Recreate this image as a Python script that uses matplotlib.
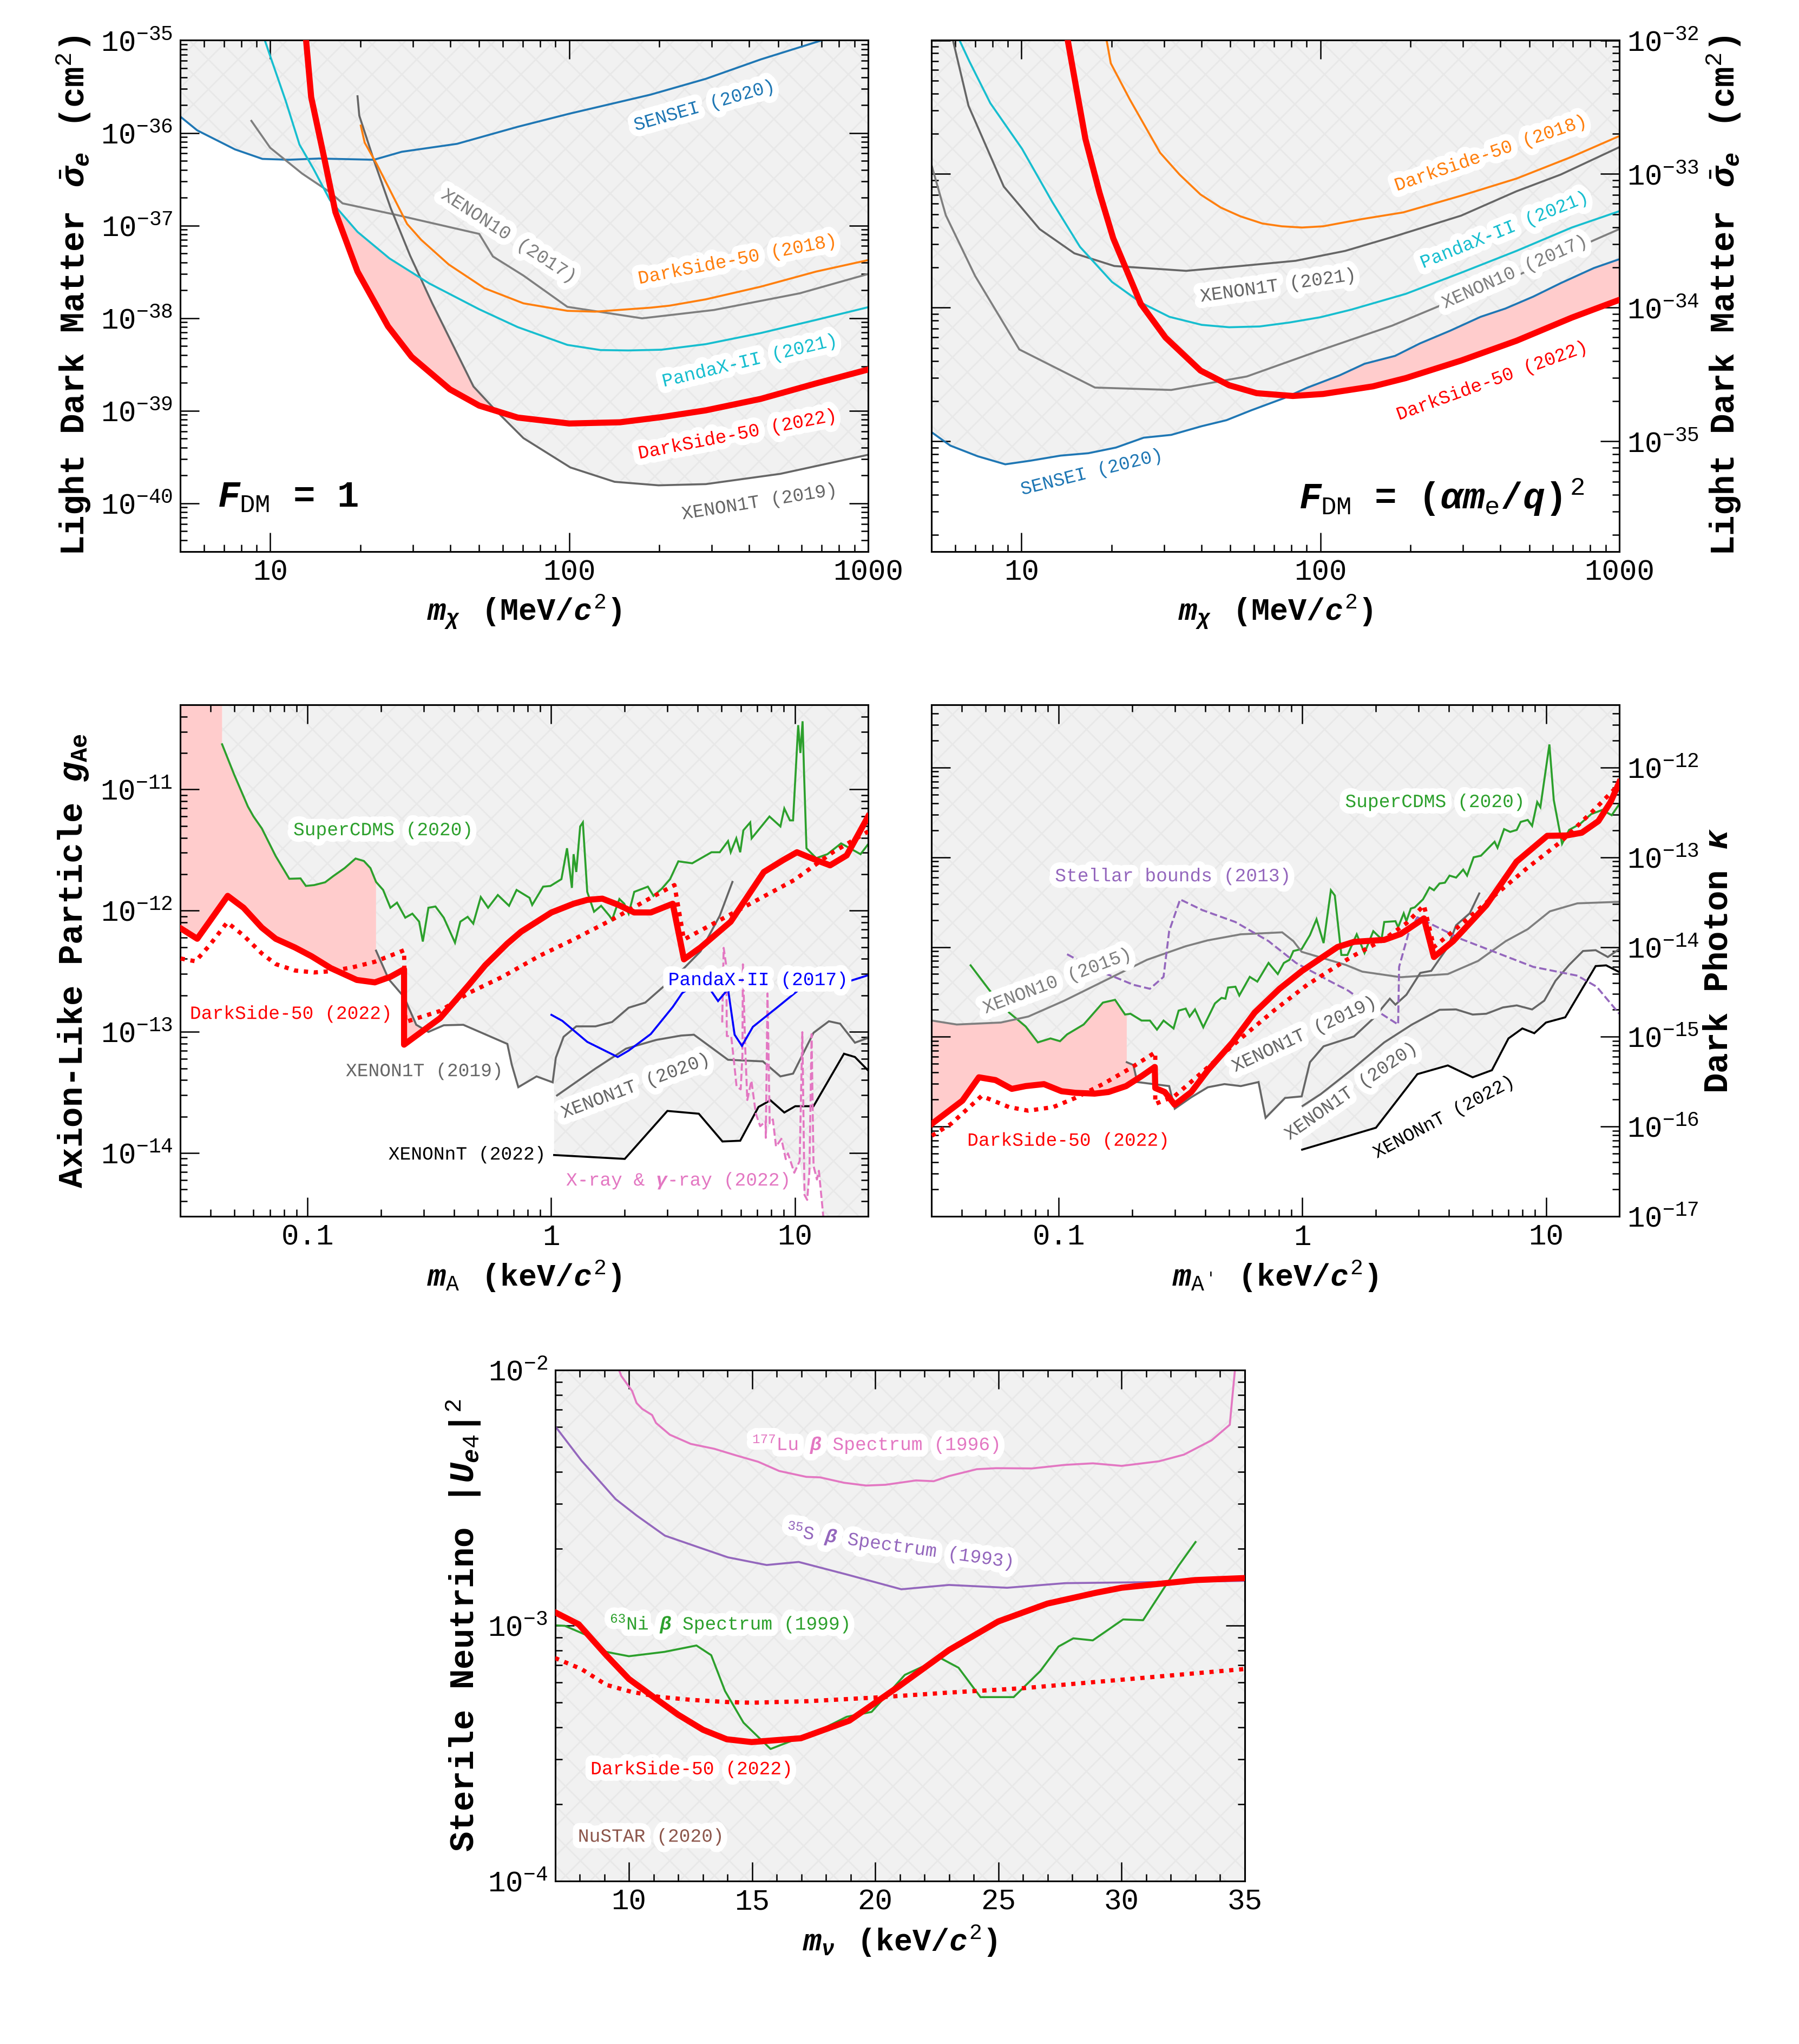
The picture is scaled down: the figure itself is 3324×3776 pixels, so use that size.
# Exclusion limits from DarkSide-50 (2022) and others, five panels.
import numpy as np
import matplotlib
matplotlib.use('Agg')
import matplotlib.pyplot as plt
import matplotlib.patheffects as pe
from matplotlib.ticker import LogLocator, MultipleLocator, NullFormatter

plt.rcParams['font.family'] = ['Liberation Mono', 'DejaVu Sans']
plt.rcParams['mathtext.fontset'] = 'custom'
plt.rcParams['mathtext.rm'] = 'Liberation Mono'
plt.rcParams['mathtext.it'] = 'Liberation Mono:italic:bold'
plt.rcParams['mathtext.bf'] = 'Liberation Mono:bold'
plt.rcParams['mathtext.fallback'] = 'stixsans'
plt.rcParams['hatch.linewidth'] = 1.2
plt.rcParams['axes.linewidth'] = 1.35

RED = '#ff0000'
GREY = '#7f7f7f'
DARK = '#666666'
BLUE = 'tab:blue'
ORANGE = '#ff7f0e'
CYAN = '#17becf'
GREEN = '#2ca02c'
PURPLE = '#9467bd'
PINK = '#e377c2'
BROWN = '#8c564b'

# ---- panel 1, F_DM = 1
p1_sensei_lx = [.697,.756,.882,.974,1.061,1.163,1.347,1.44,1.625,1.828,2,2.272,2.457,2.641,2.845]
p1_sensei_ly = [-35.818,-35.973,-36.178,-36.281,-36.29,-36.277,-36.29,-36.204,-36.118,-35.934,-35.793,-35.587,-35.416,-35.206,-35]
p1_panda_lx = [.982,1.006,1.052,1.098,1.144,1.2,1.292,1.399,1.532,1.699,1.828,1.994,2.105,2.198,2.309,2.457,2.641,2.826,3]
p1_panda_ly = [-35,-35.227,-35.656,-36.127,-36.384,-36.727,-37.069,-37.356,-37.626,-37.905,-38.098,-38.29,-38.346,-38.35,-38.342,-38.282,-38.162,-38.02,-37.883]
p1_ds22_lx = [1.12,1.137,1.181,1.218,1.292,1.394,1.473,1.601,1.699,1.828,2,2.17,2.309,2.457,2.641,2.826,3]
p1_ds22_ly = [-35,-35.613,-36.277,-36.855,-37.498,-38.089,-38.419,-38.77,-38.946,-39.075,-39.139,-39.126,-39.07,-38.997,-38.873,-38.706,-38.556]
p1_x10_lx = [.937,1,1.107,1.2,1.242,1.421,1.699,1.745,1.847,1.994,2.244,2.484,2.771,3]
p1_x10_ly = [-35.87,-36.161,-36.44,-36.641,-36.761,-36.885,-37.091,-37.335,-37.541,-37.879,-38.003,-37.913,-37.733,-37.524]
p1_x1t_lx = [1.292,1.298,1.347,1.403,1.468,1.542,1.68,1.754,1.847,2.004,2.152,2.299,2.457,2.706,3]
p1_x1t_ly = [-35.604,-35.814,-36.298,-36.812,-37.326,-37.841,-38.74,-38.997,-39.297,-39.614,-39.769,-39.807,-39.794,-39.683,-39.477]
p1_ds18_lx = [1.303,1.316,1.357,1.458,1.505,1.597,1.717,1.847,1.994,2.087,2.272,2.336,2.457,2.641,2.826,3]
p1_ds18_ly = [-35.921,-36.105,-36.341,-36.984,-37.155,-37.421,-37.678,-37.841,-37.922,-37.931,-37.888,-37.866,-37.798,-37.661,-37.498,-37.374]
p1_env_lx = [.697,.756,.882,.974,1.05,1.107,1.181,1.2,1.292,1.399,1.495,1.542,1.68,1.754,1.847,2.004,2.152,2.299,2.457,2.706,3]
p1_env_ly = [-35.818,-35.973,-36.178,-36.281,-36.3,-36.44,-36.61,-36.727,-37.069,-37.356,-37.56,-37.841,-38.74,-38.997,-39.297,-39.614,-39.769,-39.807,-39.794,-39.683,-39.477]
p1_pink_lx = [1.21,1.292,1.399,1.495,1.542,1.68,1.745,1.699,1.601,1.473,1.394,1.292,1.218]
p1_pink_ly = [-36.78,-37.069,-37.356,-37.56,-37.841,-38.74,-38.98,-38.946,-38.77,-38.419,-38.089,-37.498,-36.855]

# ---- panel 2, F_DM = (alpha m_e / q)^2
p2_sensei_lx = [.697,.762,.854,.946,1.03,1.131,1.224,1.316,1.409,1.501,1.603,1.686,1.769,1.88,1.954,2.065,2.148,2.25,2.333,2.434,2.536,2.619,2.712,2.804,2.915,3]
p2_sensei_ly = [-34.927,-35.031,-35.111,-35.171,-35.144,-35.106,-35.088,-35.046,-34.972,-34.951,-34.886,-34.841,-34.767,-34.675,-34.6,-34.505,-34.419,-34.36,-34.267,-34.172,-34.068,-34.006,-33.917,-33.816,-33.703,-33.637]
p2_x10_lx = [.697,.747,.845,.993,1.246,1.501,1.754,2,2.24,2.416,2.656,2.915,3]
p2_x10_ly = [-32.915,-33.308,-33.762,-34.312,-34.597,-34.615,-34.514,-34.318,-34.134,-33.97,-33.762,-33.495,-33.412]
p2_x1t_lx = [.771,.823,.941,1.061,1.177,1.311,1.551,1.732,1.917,2.083,2.25,2.471,2.656,2.804,3]
p2_x1t_ly = [-32,-32.49,-33.094,-33.412,-33.593,-33.688,-33.724,-33.688,-33.649,-33.575,-33.465,-33.311,-33.129,-33.004,-32.799]
p2_panda_lx = [.793,.826,.896,1.002,1.104,1.196,1.303,1.399,1.495,1.603,1.695,1.797,1.898,2,2.102,2.286,2.471,2.656,2.841,3]
p2_panda_ly = [-32,-32.158,-32.47,-32.811,-33.212,-33.545,-33.807,-33.961,-34.068,-34.128,-34.146,-34.14,-34.11,-34.071,-34.015,-33.896,-33.738,-33.575,-33.4,-33.278]
p2_ds18_lx = [1.285,1.299,1.362,1.464,1.529,1.599,1.667,1.732,1.806,1.871,1.939,2.009,2.139,2.277,2.471,2.656,2.841,3]
p2_ds18_ly = [-32,-32.172,-32.44,-32.841,-33.004,-33.153,-33.251,-33.316,-33.37,-33.391,-33.4,-33.391,-33.337,-33.287,-33.162,-33.034,-32.871,-32.716]
p2_ds22_lx = [1.155,1.177,1.214,1.261,1.307,1.399,1.482,1.599,1.695,1.787,1.908,2.009,2.176,2.286,2.471,2.656,2.841,3]
p2_ds22_ly = [-32,-32.276,-32.737,-33.138,-33.48,-33.97,-34.223,-34.47,-34.58,-34.639,-34.66,-34.645,-34.588,-34.526,-34.395,-34.247,-34.074,-33.941]
p2_pink_lx = [1.908,1.954,2.065,2.148,2.25,2.333,2.434,2.536,2.619,2.712,2.804,2.915,3,3,2.841,2.656,2.471,2.286,2.176,2.009]
p2_pink_ly = [-34.66,-34.6,-34.505,-34.419,-34.36,-34.267,-34.172,-34.068,-34.006,-33.917,-33.816,-33.703,-33.637,-33.941,-34.074,-34.247,-34.395,-34.526,-34.588,-34.645]

# ---- panel 3, axion-like particle
p3_ds22_lx = [-1.521,-1.453,-1.403,-1.328,-1.263,-1.188,-1.131,-1.052,-.984,-.905,-.798,-.724,-.66,-.604,-.604,-.456,-.339,-.271,-.18,-.123,.001,.092,.148,.21,.273,.341,.409,.499,.545,.613,.737,.873,.952,1.009,1.088,1.145,1.213,1.301]
p3_ds22_ly = [-12.146,-12.232,-12.091,-11.878,-11.976,-12.14,-12.232,-12.304,-12.376,-12.474,-12.572,-12.592,-12.546,-12.484,-13.106,-12.887,-12.615,-12.451,-12.271,-12.173,-12.015,-11.943,-11.911,-11.901,-11.95,-12.015,-12.015,-11.943,-12.402,-12.304,-12.091,-11.681,-11.583,-11.518,-11.583,-11.626,-11.544,-11.223]
p3_dot_lx = [-1.521,-1.46,-1.403,-1.33,-1.263,-1.188,-1.131,-1.052,-.973,-.905,-.814,-.724,-.604,-.599,-.456,-.339,-.203,-.044,.092,.25,.409,.506,.545,.772,.998,1.156,1.301]
p3_dot_ly = [-12.395,-12.418,-12.287,-12.097,-12.205,-12.353,-12.441,-12.494,-12.51,-12.5,-12.467,-12.422,-12.327,-12.919,-12.828,-12.68,-12.549,-12.369,-12.238,-12.074,-11.894,-11.789,-12.238,-11.992,-11.747,-11.518,-11.347]
p3_cdms_lx = [-1.351,-1.301,-1.245,-1.222,-1.188,-1.131,-1.075,-1.029,-1.007,-.973,-.928,-.894,-.848,-.803,-.769,-.742,-.719,-.69,-.66,-.633,-.599,-.57,-.542,-.527,-.504,-.475,-.441,-.395,-.373,-.343,-.32,-.289,-.259,-.219,-.173,-.142,-.089,-.078,-.033,-.003,.042,.065,.085,.092,.103,.119,.13,.148,.176,.205,.239,.25,.28,.3,.318,.341,.397,.42,.454,.488,.522,.579,.658,.692,.726,.737,.76,.776,.789,.817,.823,.896,.941,.957,.98,.993,1.014,1.023,1.032,1.038,1.048,1.088,1.134,1.19,1.27,1.301]
p3_cdms_ly = [-10.627,-10.879,-11.141,-11.223,-11.321,-11.55,-11.737,-11.734,-11.796,-11.789,-11.766,-11.714,-11.649,-11.57,-11.59,-11.649,-11.763,-11.829,-11.976,-11.934,-12.058,-12.025,-12.091,-12.255,-11.976,-11.966,-12.058,-12.264,-12.091,-12.051,-12.107,-11.888,-11.976,-11.871,-11.96,-11.829,-11.894,-11.953,-11.802,-11.796,-11.74,-11.485,-11.812,-11.534,-11.681,-11.305,-11.272,-11.845,-12.009,-11.96,-12.042,-12.074,-11.904,-11.943,-12.025,-11.845,-11.802,-11.878,-11.819,-11.74,-11.593,-11.609,-11.518,-11.518,-11.426,-11.518,-11.403,-11.518,-11.337,-11.272,-11.403,-11.223,-11.305,-11.157,-11.255,-11.255,-10.469,-10.699,-10.437,-10.862,-11.485,-11.567,-11.534,-11.445,-11.534,-11.452]
p3_x1t19_lx = [-.719,-.667,-.604,-.554,-.504,-.441,-.361,-.18,-.162,-.135,-.06,.006,.019,.051,.103,.182,.25,.318,.386,.533,.613,.692,.744]
p3_x1t19_ly = [-12.33,-12.566,-12.713,-12.942,-13.001,-12.946,-12.942,-13.1,-13.27,-13.457,-13.368,-13.417,-13.214,-13.041,-12.955,-12.955,-12.919,-12.801,-12.759,-12.5,-12.336,-12.042,-11.763]
p3_x1t20_lx = [.024,.182,.307,.431,.533,.586,.726,.869,.941,.993,1.077,1.14,1.186,1.247,1.301]
p3_x1t20_ly = [-13.525,-13.303,-13.139,-13.067,-13.031,-13.024,-13.231,-13.244,-13.368,-13.345,-13.008,-12.913,-12.933,-13.09,-13.05]
p3_xnt_lx = [.012,.302,.477,.606,.703,.776,.851,.9,.957,1.002,1.077,1.202,1.247,1.301]
p3_xnt_ly = [-14.017,-14.049,-13.653,-13.676,-13.905,-13.899,-13.62,-13.565,-13.666,-13.614,-13.614,-13.181,-13.208,-13.319]
p3_panda_lx = [.001,.046,.148,.273,.318,.409,.499,.538,.624,.685,.726,.753,.783,.828,.93,1.02,1.224,1.301]
p3_panda_ly = [-12.86,-12.91,-13.083,-13.208,-13.155,-13.018,-12.795,-12.68,-12.566,-12.746,-12.648,-13.024,-13.116,-12.959,-12.795,-12.648,-12.582,-12.533]
p3_xray_lx = [.702,.708,.719,.721,.739,.752,.761,.778,.785,.787,.796,.805,.822,.84,.858,.88,.881,.888,.897,.91,.923,.945,.963,.972,.998,1.02,1.031,1.04,1.051,1.06,1.069,1.077,1.091,1.099,1.117]
p3_xray_ly = [-12.923,-12.307,-12.459,-13.035,-13.035,-13.275,-13.451,-13.475,-13.195,-12.443,-13.099,-13.563,-13.403,-13.675,-13.779,-13.739,-13.875,-12.683,-13.755,-13.723,-13.947,-13.883,-14.051,-14.003,-14.163,-14.067,-13.003,-14.347,-14.387,-14.155,-13.019,-14.107,-14.219,-14.147,-14.523]
p3_env_lx = [-1.351,-1.301,-1.245,-1.222,-1.188,-1.131,-1.075,-1.029,-1.007,-.973,-.928,-.894,-.848,-.803,-.769,-.742,-.719,-.719,-.667,-.604,-.554,-.504,-.441,-.361,-.18,-.162,-.135,-.06,.006,.012,.012,.302,.477,.606,.703,.776,.84,.858,.88,.881,.897,.91,.923,.945,.963,.972,.998,1.02,1.04,1.051,1.06,1.077,1.091,1.099,1.117,1.301]
p3_env_ly = [-10.627,-10.879,-11.141,-11.223,-11.321,-11.55,-11.737,-11.734,-11.796,-11.789,-11.766,-11.714,-11.649,-11.57,-11.59,-11.649,-11.763,-12.33,-12.566,-12.713,-12.942,-13.001,-12.946,-12.942,-13.1,-13.27,-13.457,-13.368,-13.417,-13.42,-14.017,-14.049,-13.653,-13.676,-13.905,-13.899,-13.66,-13.779,-13.739,-13.875,-13.755,-13.723,-13.947,-13.883,-14.051,-14.003,-14.163,-14.067,-14.347,-14.387,-14.155,-14.107,-14.219,-14.147,-14.523,-14.523]
p3_pink_lx = [-1.521,-1.351,-1.351,-1.301,-1.245,-1.222,-1.188,-1.131,-1.075,-1.029,-1.007,-.973,-.928,-.894,-.848,-.803,-.769,-.742,-.719,-.719,-.667,-.724,-.798,-.905,-.984,-1.052,-1.131,-1.188,-1.263,-1.328,-1.403,-1.453,-1.521]
p3_pink_ly = [-10.301,-10.301,-10.627,-10.879,-11.141,-11.223,-11.321,-11.55,-11.737,-11.734,-11.796,-11.789,-11.766,-11.714,-11.649,-11.57,-11.59,-11.649,-11.763,-12.33,-12.566,-12.592,-12.572,-12.474,-12.376,-12.304,-12.232,-12.14,-11.976,-11.878,-12.091,-12.232,-12.146]
p3_pink2_lx = [-.604,-.554,-.525,-.604]
p3_pink2_ly = [-12.713,-12.942,-12.98,-13.106]

# ---- panel 4, dark photon
p4_ds22_lx = [-1.521,-1.396,-1.328,-1.26,-1.193,-1.136,-1.061,-.989,-.932,-.853,-.796,-.724,-.66,-.606,-.604,-.565,-.524,-.456,-.388,-.287,-.196,-.094,-.001,.144,.212,.336,.404,.499,.54,.619,.755,.879,1.005,1.084,1.147,1.215,1.265,1.301]
p4_ds22_ly = [-15.969,-15.712,-15.451,-15.482,-15.58,-15.549,-15.527,-15.606,-15.624,-15.633,-15.615,-15.549,-15.438,-15.336,-15.571,-15.615,-15.757,-15.615,-15.372,-15.062,-14.73,-14.465,-14.265,-14,-13.942,-13.92,-13.854,-13.681,-14.111,-13.934,-13.535,-13.049,-12.761,-12.757,-12.726,-12.597,-12.385,-12.164]
p4_dot_lx = [-1.521,-1.442,-1.317,-1.204,-1.125,-1.023,-.932,-.819,-.706,-.604,-.604,-.524,-.411,-.253,-.117,.02,.2,.336,.427,.499,.54,.619,.789,.925,1.061,1.197,1.301]
p4_dot_ly = [-16.102,-15.969,-15.659,-15.783,-15.823,-15.783,-15.681,-15.527,-15.35,-15.173,-15.748,-15.659,-15.394,-15.018,-14.708,-14.42,-14.111,-13.912,-13.735,-13.535,-14,-13.823,-13.425,-13.115,-12.827,-12.473,-12.186]
p4_cdms_lx = [-1.362,-1.283,-1.204,-1.136,-1.086,-1.034,-.995,-.966,-.898,-.819,-.769,-.728,-.706,-.66,-.626,-.597,-.57,-.529,-.508,-.479,-.463,-.441,-.407,-.359,-.332,-.316,-.305,-.275,-.259,-.216,-.185,-.139,-.101,-.076,-.053,-.037,-.003,.031,.058,.087,.117,.133,.16,.185,.223,.255,.291,.325,.336,.382,.393,.416,.427,.445,.461,.495,.522,.54,.563,.585,.604,.631,.66,.676,.703,.733,.789,.801,.828,.853,.88,.896,.925,.943,.964,.977,1.014,1.032,1.066,1.095,1.14,1.186,1.231,1.27,1.301]
p4_cdms_ly = [-14.204,-14.487,-14.73,-14.885,-15.062,-15.018,-15.049,-14.973,-14.863,-14.619,-14.588,-14.752,-14.743,-14.819,-14.819,-14.92,-14.819,-14.907,-14.708,-14.686,-14.774,-14.695,-14.894,-14.628,-14.566,-14.575,-14.451,-14.442,-14.54,-14.332,-14.385,-14.177,-14.301,-14.177,-14.142,-14.044,-14.022,-13.867,-13.69,-13.956,-13.367,-13.425,-14.088,-14.088,-13.858,-14.066,-13.823,-13.912,-13.721,-13.712,-13.779,-13.624,-13.712,-13.571,-13.558,-13.469,-13.336,-13.367,-13.292,-13.283,-13.204,-13.226,-13.137,-13.204,-13,-12.982,-12.827,-12.894,-12.686,-12.717,-12.695,-12.606,-12.584,-12.65,-12.385,-12.442,-11.743,-12.363,-12.85,-12.695,-12.628,-12.518,-12.473,-12.531,-12.407]
p4_x10_lx = [-1.521,-1.419,-1.238,-1.125,-.977,-.796,-.638,-.479,-.388,-.253,-.083,-.037,-.003,.178,.246,.404,.597,.721,.835,.925,1.016,1.129,1.301]
p4_x10_ly = [-14.819,-14.863,-14.841,-14.774,-14.597,-14.354,-14.142,-13.991,-13.925,-13.858,-13.836,-13.934,-14.053,-14.199,-14.274,-14.336,-14.301,-14.155,-13.934,-13.801,-13.602,-13.513,-13.496]
p4_x1t19_lx = [-.721,-.694,-.678,-.547,-.524,-.456,-.388,-.32,-.253,-.18,-.151,-.071,-.003,.031,.087,.212,.291,.359,.382,.427,.484,.529,.597,.631,.687,.726]
p4_x1t19_ly = [-15.283,-15.314,-15.504,-15.549,-15.801,-15.673,-15.562,-15.527,-15.549,-15.504,-15.903,-15.681,-15.664,-15.283,-15.106,-14.996,-14.796,-14.575,-14.642,-14.531,-14.288,-14.265,-14,-13.757,-13.624,-13.403]
p4_x1t20_lx = [.001,.076,.2,.336,.45,.563,.631,.699,.755,.823,.88,.943,.993,1.039,1.095,1.152,1.204,1.254,1.301]
p4_x1t20_ly = [-15.77,-15.637,-15.372,-15.062,-14.863,-14.699,-14.695,-14.752,-14.743,-14.673,-14.65,-14.695,-14.597,-14.376,-14.199,-14.044,-14.035,-14.111,-14.022]
p4_xnt_lx = [-.001,.302,.472,.597,.699,.778,.846,.903,.952,1,1.079,1.204,1.247,1.301]
p4_xnt_ly = [-16.257,-16.013,-15.416,-15.319,-15.451,-15.372,-15.018,-14.907,-14.96,-14.841,-14.783,-14.212,-14.204,-14.279]
p4_stellar_lx = [-.966,-.841,-.773,-.694,-.626,-.57,-.547,-.502,-.411,-.275,-.139,-.026,.11,.189,.291,.393,.397,.438,.472,.653,.948,1.129,1.208,1.301]
p4_stellar_ly = [-14.08,-14.265,-14.332,-14.42,-14.465,-14.332,-13.823,-13.469,-13.588,-13.721,-13.934,-14.177,-14.376,-14.487,-14.686,-14.863,-14.221,-13.823,-13.668,-13.912,-14.221,-14.319,-14.442,-14.743]
p4_env_lx = [-1.521,-1.419,-1.238,-1.18,-1.136,-1.086,-1.034,-.995,-.966,-.898,-.819,-.769,-.728,-.721,-.721,-.694,-.678,-.547,-.524,-.456,-.388,-.32,-.253,-.18,-.151,-.071,-.003,-.001,.302,.472,.597,.699,.778,.846,.903,.952,1,1.079,1.204,1.247,1.301]
p4_env_ly = [-14.819,-14.863,-14.841,-14.81,-14.885,-15.062,-15.018,-15.049,-14.973,-14.863,-14.619,-14.588,-14.752,-14.76,-15.283,-15.314,-15.504,-15.549,-15.801,-15.673,-15.562,-15.527,-15.549,-15.504,-15.903,-15.681,-15.664,-16.257,-16.013,-15.416,-15.319,-15.451,-15.372,-15.018,-14.907,-14.96,-14.841,-14.783,-14.212,-14.204,-14.279]
p4_pink_lx = [-1.521,-1.419,-1.238,-1.18,-1.136,-1.086,-1.034,-.995,-.966,-.898,-.819,-.769,-.728,-.721,-.721,-.694,-.68,-.724,-.796,-.853,-.932,-.989,-1.061,-1.136,-1.193,-1.26,-1.328,-1.396,-1.521]
p4_pink_ly = [-14.819,-14.863,-14.841,-14.81,-14.885,-15.062,-15.018,-15.049,-14.973,-14.863,-14.619,-14.588,-14.752,-14.76,-15.283,-15.314,-15.47,-15.549,-15.615,-15.633,-15.624,-15.606,-15.527,-15.549,-15.58,-15.482,-15.451,-15.712,-15.969]

# ---- panel 5, sterile neutrino (x axis is linear)
p5_lu_x = [9.6,9.69,10.13,10.31,10.54,10.94,11.1,11.66,12.51,13.46,14.35,15.25,16.1,17.2,17.76,18.73,19.63,20.41,21.65,22.37,22.99,24.12,24.9,26.36,27.71,28.83,30,31.52,32.53,33.65,34.39,34.48,34.6]
p5_lu_ly = [-2,-2.023,-2.082,-2.129,-2.152,-2.176,-2.207,-2.253,-2.289,-2.308,-2.334,-2.359,-2.395,-2.418,-2.42,-2.441,-2.452,-2.449,-2.432,-2.435,-2.415,-2.388,-2.384,-2.385,-2.371,-2.365,-2.375,-2.357,-2.331,-2.275,-2.214,-2.121,-2]
p5_s_x = [7,8.07,9.46,10.31,11.46,12.78,14.02,15.59,16.89,18.84,21.06,22.99,25.35,27.71,31.18,35]
p5_s_ly = [-2.219,-2.354,-2.505,-2.569,-2.648,-2.692,-2.733,-2.763,-2.751,-2.8,-2.858,-2.841,-2.852,-2.834,-2.83,-2.825]
p5_ni_x = [7,7.4,8.29,9.08,10,11.44,12.74,13.34,13.9,14.65,15.75,16.93,17.72,18.84,19.85,21.2,22.66,23.38,24.27,25.62,26.7,27.44,28.04,28.83,30.06,30.87,32.31,33]
p5_ni_ly = [-2.999,-3.001,-3.038,-3.103,-3.12,-3.103,-3.078,-3.116,-3.256,-3.38,-3.483,-3.439,-3.411,-3.357,-3.338,-3.193,-3.128,-3.165,-3.28,-3.28,-3.178,-3.082,-3.05,-3.058,-2.976,-2.979,-2.766,-2.673]
p5_ds22_x = [7,7.96,9.08,10,10.99,12,13.01,13.97,14.98,16.98,18.95,20.97,22.99,24.99,26.99,28.94,30,32.98,35]
p5_ds22_ly = [-2.948,-2.995,-3.116,-3.209,-3.279,-3.349,-3.408,-3.445,-3.456,-3.441,-3.372,-3.237,-3.096,-2.984,-2.914,-2.872,-2.852,-2.822,-2.814]
p5_dot_x = [7,8.07,9.08,10.09,11.21,12.56,13.9,14.98,17.27,19.96,22.88,26.02,30,35]
p5_dot_ly = [-3.127,-3.17,-3.232,-3.259,-3.279,-3.291,-3.299,-3.302,-3.296,-3.282,-3.263,-3.245,-3.212,-3.17]

# ticks and limits
p12_xticks = [10, 100, 1000]
p12_xlabels = ['10', '100', '1000']
p1_yticks = [1e-35, 1e-36, 1e-37, 1e-38, 1e-39, 1e-40]
p1_ylabels = ['$10^{-35}$', '$10^{-36}$', '$10^{-37}$', '$10^{-38}$', '$10^{-39}$', '$10^{-40}$']
p2_yticks = [1e-32, 1e-33, 1e-34, 1e-35]
p2_ylabels = ['$10^{-32}$', '$10^{-33}$', '$10^{-34}$', '$10^{-35}$']
p34_xticks = [0.1, 1, 10]
p34_xlabels = ['0.1', '1', '10']
p3_yticks = [1e-11, 1e-12, 1e-13, 1e-14]
p3_ylabels = ['$10^{-11}$', '$10^{-12}$', '$10^{-13}$', '$10^{-14}$']
p4_yticks = [1e-12, 1e-13, 1e-14, 1e-15, 1e-16, 1e-17]
p4_ylabels = ['$10^{-12}$', '$10^{-13}$', '$10^{-14}$', '$10^{-15}$', '$10^{-16}$', '$10^{-17}$']
p5_xticks = [10, 15, 20, 25, 30, 35]
p5_xlabels = ['10', '15', '20', '25', '30', '35']
p5_yticks = [1e-2, 1e-3, 1e-4]
p5_ylabels = ['$10^{-2}$', '$10^{-3}$', '$10^{-4}$']

# dpi 165 makes the hatch tile come out at the reference's cell size
W, H = 3324, 3776
DPI = 165
fig = plt.figure(figsize=(W / DPI, H / DPI), dpi=DPI)


def make_ax(x0, y0, x1, y1):
    return fig.add_axes([x0 / W, 1 - y1 / H, (x1 - x0) / W, (y1 - y0) / H])


def style(ax, xlim, ylim, xticks, xlabels, yticks, ylabels, logx=True, right=False):
    ax.set_yscale('log')
    ax.set_ylim(ylim)
    if logx:
        ax.set_xscale('log')
        ax.xaxis.set_minor_locator(LogLocator(10, subs=range(2, 10), numticks=20))
        ax.xaxis.set_minor_formatter(NullFormatter())
    else:
        ax.xaxis.set_minor_locator(MultipleLocator(1))
    ax.set_xticks(xticks, xlabels)
    ax.set_xlim(xlim)
    ax.set_yticks(yticks, ylabels)
    ax.yaxis.set_minor_locator(LogLocator(10, subs=range(2, 10), numticks=20))
    ax.yaxis.set_minor_formatter(NullFormatter())
    ax.set_ylim(ylim)
    ax.tick_params(which='major', direction='in', length=15.2, width=1.1, top=True, right=True, labelsize=23.6, pad=6)
    ax.tick_params(which='minor', direction='in', length=5.7, width=1.1, top=True, right=True)
    if right:
        ax.tick_params(axis='y', which='both', labelleft=False, labelright=True)


def grey_region(ax, lx, ly, top):
    ax.fill_between(10 ** np.array(lx), 10 ** np.array(ly), top, facecolor='#f1f1f1', edgecolor='#e8e8e8',
                    hatch='x', linewidth=0, zorder=1)


def pink_region(ax, lx, ly):
    ax.fill(10 ** np.array(lx), 10 ** np.array(ly), color='#ffcccc', linewidth=0, zorder=1.5)


def curve(ax, lx, ly, color, lw=1.6, ls='-', z=2):
    ax.plot(10 ** np.array(lx), 10 ** np.array(ly), color=color, lw=lw, ls=ls, zorder=z, solid_joinstyle='miter')


def limit(ax, lx, ly):
    ax.plot(10 ** np.array(lx), 10 ** np.array(ly), color=RED, lw=4.9, zorder=3, solid_joinstyle='round')


def dotted(ax, lx, ly):
    curve(ax, lx, ly, RED, lw=3.4, ls=(0, (1, 1.35)), z=2.9)


def label(ax, fx, fy, s, color, rot=0):
    ax.text(fx, fy, s, transform=ax.transAxes, color=color, fontsize=15.1, rotation=rot, rotation_mode='anchor',
            ha='center', va='center', zorder=6,
            path_effects=[pe.withStroke(linewidth=10.5, foreground='white')])


def axis_titles(ax, xt, yt, yx, ysize=27.3):
    ax.set_xlabel(xt, fontsize=24.8, fontweight='bold')
    ax.xaxis.set_label_coords(0.5, -0.117)
    ax.xaxis.label.set_va('center')
    ax.set_ylabel(yt, fontsize=ysize, fontweight='bold')
    ax.yaxis.set_label_coords(yx, 0.5)
    ax.yaxis.label.set_va('center')


# panel 1
ax1 = make_ax(333, 74.5, 1604, 1019)
style(ax1, (5, 1000), (3e-41, 1e-35), p12_xticks, p12_xlabels, p1_yticks, p1_ylabels)
grey_region(ax1, p1_env_lx, p1_env_ly, 1e-35)
pink_region(ax1, p1_pink_lx, p1_pink_ly)
curve(ax1, p1_sensei_lx, p1_sensei_ly, BLUE)
curve(ax1, p1_x10_lx, p1_x10_ly, GREY)
curve(ax1, p1_x1t_lx, p1_x1t_ly, DARK)
curve(ax1, p1_panda_lx, p1_panda_ly, CYAN)
curve(ax1, p1_ds18_lx, p1_ds18_ly, ORANGE)
limit(ax1, p1_ds22_lx, p1_ds22_ly)
label(ax1, .762, .872, 'SENSEI (2020)', BLUE, 16)
label(ax1, .478, .617, 'XENON10 (2017)', GREY, -33)
label(ax1, .81, .571, 'DarkSide-50 (2018)', ORANGE, 11)
label(ax1, .828, .373, 'PandaX-II (2021)', CYAN, 13.5)
label(ax1, .81, .229, 'DarkSide-50 (2022)', RED, 11)
label(ax1, .842, .097, 'XENON1T (2019)', DARK, 9)
ax1.text(.054, .107, r'$F_{\mathrm{DM}}$ = 1', transform=ax1.transAxes, fontsize=29.5, fontweight='bold', va='center', zorder=6)
axis_titles(ax1, r'$m_{\chi}$ $\,$(MeV/$c^2$)', r'Light Dark Matter $\,\bar{\sigma}_e$ $\,$(cm$^2$)', -.155)

# panel 2
ax2 = make_ax(1721, 74.5, 2992, 1019)
style(ax2, (5, 1000), (1.5e-36, 1e-32), p12_xticks, p12_xlabels, p2_yticks, p2_ylabels, right=True)
grey_region(ax2, p2_sensei_lx, p2_sensei_ly, 1e-32)
pink_region(ax2, p2_pink_lx, p2_pink_ly)
curve(ax2, p2_sensei_lx, p2_sensei_ly, BLUE)
curve(ax2, p2_x10_lx, p2_x10_ly, GREY)
curve(ax2, p2_x1t_lx, p2_x1t_ly, DARK)
curve(ax2, p2_panda_lx, p2_panda_ly, CYAN)
curve(ax2, p2_ds18_lx, p2_ds18_ly, ORANGE)
limit(ax2, p2_ds22_lx, p2_ds22_ly)
label(ax2, .813, .779, 'DarkSide-50 (2018)', ORANGE, 19)
label(ax2, .833, .629, 'PandaX-II (2021)', CYAN, 22)
label(ax2, .848, .547, 'XENON10 (2017)', GREY, 24)
label(ax2, .504, .52, 'XENON1T (2021)', DARK, 8)
label(ax2, .815, .334, 'DarkSide-50 (2022)', RED, 20)
label(ax2, .233, .155, 'SENSEI (2020)', BLUE, 14)
ax2.text(.534, .107, r'$F_{\mathrm{DM}}$ = ($\alpha m_{\mathrm{e}}$/$q$)$^{\,2}$', transform=ax2.transAxes, fontsize=29.5,
         fontweight='bold', va='center', zorder=6)
axis_titles(ax2, r'$m_{\chi}$ $\,$(MeV/$c^2$)', r'Light Dark Matter $\,\bar{\sigma}_e$ $\,$(cm$^2$)', 1.152)

# panel 3
ax3 = make_ax(333, 1302, 1604, 2247)
style(ax3, (0.03, 20), (3e-15, 5e-11), p34_xticks, p34_xlabels, p3_yticks, p3_ylabels)
grey_region(ax3, p3_env_lx, p3_env_ly, 5e-11)
pink_region(ax3, p3_pink_lx, p3_pink_ly)
pink_region(ax3, p3_pink2_lx, p3_pink2_ly)
curve(ax3, p3_cdms_lx, p3_cdms_ly, GREEN)
curve(ax3, p3_x1t19_lx, p3_x1t19_ly, DARK)
curve(ax3, p3_x1t20_lx, p3_x1t20_ly, DARK)
curve(ax3, p3_xnt_lx, p3_xnt_ly, 'black')
curve(ax3, p3_xray_lx, p3_xray_ly, PINK, ls='--')
curve(ax3, p3_panda_lx, p3_panda_ly, 'blue')
dotted(ax3, p3_dot_lx, p3_dot_ly)
limit(ax3, p3_ds22_lx, p3_ds22_ly)
label(ax3, .295, .755, 'SuperCDMS (2020)', GREEN)
label(ax3, .161, .396, 'DarkSide-50 (2022)', RED)
label(ax3, .355, .284, 'XENON1T (2019)', DARK)
label(ax3, .84, .462, 'PandaX-II (2017)', 'blue')
label(ax3, .662, .255, 'XENON1T (2020)', DARK, 20.5)
label(ax3, .417, .121, 'XENONnT (2022)', 'black')
label(ax3, .723, .07, r'X-ray & $\gamma$-ray (2022)', PINK)
axis_titles(ax3, r'$m_{\mathrm{A}}$ $\,$(keV/$c^2$)', r'Axion-Like Particle $g_{\mathbf{Ae}}$', -.155)

# panel 4
ax4 = make_ax(1721, 1302, 2992, 2247)
style(ax4, (0.03, 20), (1e-17, 5e-12), p34_xticks, p34_xlabels, p4_yticks, p4_ylabels, right=True)
grey_region(ax4, p4_env_lx, p4_env_ly, 5e-12)
pink_region(ax4, p4_pink_lx, p4_pink_ly)
curve(ax4, p4_cdms_lx, p4_cdms_ly, GREEN)
curve(ax4, p4_x10_lx, p4_x10_ly, GREY)
curve(ax4, p4_x1t19_lx, p4_x1t19_ly, DARK)
curve(ax4, p4_x1t20_lx, p4_x1t20_ly, DARK)
curve(ax4, p4_xnt_lx, p4_xnt_ly, 'black')
curve(ax4, p4_stellar_lx, p4_stellar_ly, PURPLE, ls='--')
dotted(ax4, p4_dot_lx, p4_dot_ly)
limit(ax4, p4_ds22_lx, p4_ds22_ly)
label(ax4, .351, .665, 'Stellar bounds (2013)', PURPLE)
label(ax4, .732, .81, 'SuperCDMS (2020)', GREEN)
label(ax4, .183, .46, 'XENON10 (2015)', GREY, 20.7)
label(ax4, .542, .356, 'XENON1T (2019)', DARK, 25)
label(ax4, .61, .245, 'XENON1T (2020)', DARK, 35)
label(ax4, .745, .194, 'XENONnT (2022)', 'black', 28)
label(ax4, .199, .148, 'DarkSide-50 (2022)', RED)
axis_titles(ax4, r"$m_{\mathrm{A}^{\,\prime}}$ $\,$(keV/$c^2$)", r'Dark Photon $\kappa$', 1.144)

# panel 5
ax5 = make_ax(1025.5, 2531, 2300, 3475)
style(ax5, (7, 35), (1e-4, 1e-2), p5_xticks, p5_xlabels, p5_yticks, p5_ylabels, logx=False)
ax5.axhspan(1e-4, 1e-2, facecolor='#f1f1f1', edgecolor='#e8e8e8', hatch='x', linewidth=0, zorder=1)
ax5.plot(p5_lu_x, 10 ** np.array(p5_lu_ly), color=PINK, lw=1.6, zorder=2)
ax5.plot(p5_s_x, 10 ** np.array(p5_s_ly), color=PURPLE, lw=1.6, zorder=2)
ax5.plot(p5_ni_x, 10 ** np.array(p5_ni_ly), color=GREEN, lw=1.6, zorder=2)
ax5.plot(p5_dot_x, 10 ** np.array(p5_dot_ly), color=RED, lw=3.4, ls=(0, (1, 1.35)), zorder=2.9)
ax5.plot(p5_ds22_x, 10 ** np.array(p5_ds22_ly), color=RED, lw=4.9, zorder=3)
label(ax5, .465, .855, r'$^{177}$Lu $\beta$ Spectrum (1996)', PINK)
label(ax5, .5, .656, r'$^{35}$S $\beta$ Spectrum (1993)', PURPLE, -8)
label(ax5, .253, .504, r'$^{63}$Ni $\beta$ Spectrum (1999)', GREEN)
label(ax5, .198, .219, 'DarkSide-50 (2022)', RED)
label(ax5, .139, .087, 'NuSTAR (2020)', BROWN)
axis_titles(ax5, r'$m_{\nu}$ $\,$(keV/$c^2$)', r'Sterile Neutrino $\,$|$U_{e4}$|$^2$', -.133)

fig.savefig('out.png', dpi=DPI)
